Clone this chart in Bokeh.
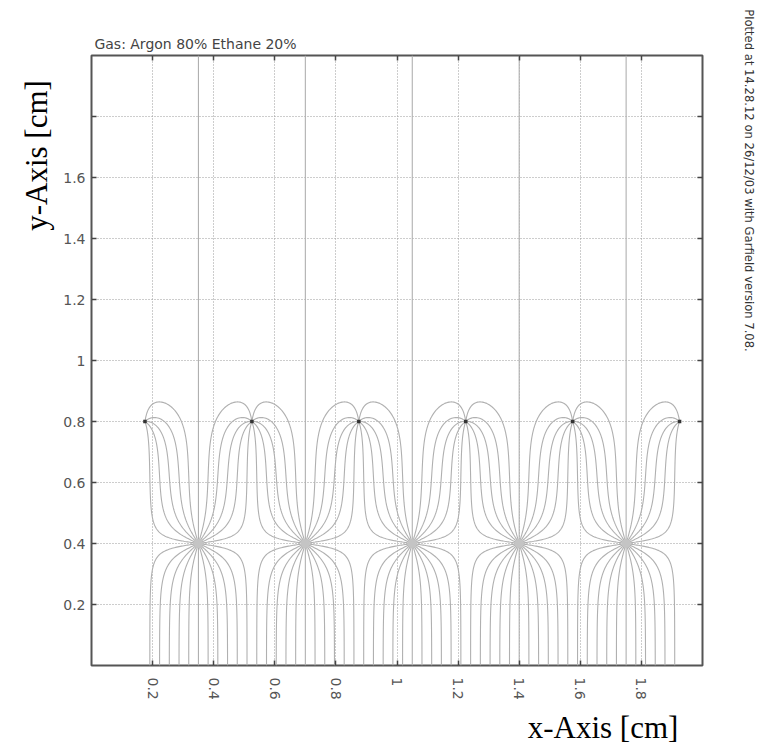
import math
import numpy as np
from bokeh.plotting import figure
from bokeh.models import Range1d, LinearAxis, FixedTicker, ColumnDataSource
from bokeh.embed import file_html
from bokeh.resources import INLINE

# ---------------- data ----------------
gas_text = "Gas: Argon 80% Ethane 20%"
stamp_text = "Plotted at 14.28.12 on 26/12/03 with Garfield version 7.08."
x_title = "x-Axis [cm]"
y_title = "y-Axis [cm]"

anode_x = [0.35, 0.70, 1.05, 1.40, 1.75]
anode_y = [0.40, 0.40, 0.40, 0.40, 0.40]
cathode_x = [0.175, 0.525, 0.875, 1.225, 1.575, 1.925]
cathode_y = [0.80, 0.80, 0.80, 0.80, 0.80, 0.80]
cell_pitch = 0.35            # periodic cell (cm)
anode_charge = 1.0           # relative line charges
escape_fraction = 0.07       # share of anode flux leaving through the top
cathode_charge = -0.5 + escape_fraction
lines_per_anode = 22

x_ticks = [0.2, 0.4, 0.6, 0.8, 1.0, 1.2, 1.4, 1.6, 1.8]
x_tick_labels = ["0.2", "0.4", "0.6", "0.8", "1", "1.2", "1.4", "1.6", "1.8"]
y_ticks = [0.2, 0.4, 0.6, 0.8, 1.0, 1.2, 1.4, 1.6, 1.8]
y_tick_labels = ["0.2", "0.4", "0.6", "0.8", "1", "1.2", "1.4", "1.6", ""]

x_lo, x_hi = 0.0, 2.0
y_lo, y_hi = 0.0, 2.0

# ---------------- electrostatic field of the periodic wire grid ----------------
sources = [(complex(anode_x[0], anode_y[0]), anode_charge),
           (complex(cathode_x[0], cathode_y[0]), cathode_charge)]
kk = math.pi / cell_pitch
e_top = 2 * math.pi * escape_fraction * anode_charge / cell_pitch


def field(z):
    const = np.zeros(z.shape, dtype=complex)
    rem = np.zeros(z.shape, dtype=complex)
    for zc, lam in sources:
        for src, s in ((zc, lam), (zc.conjugate(), -lam)):
            w = kk * (z - src)
            up = w.imag > 0
            q = np.exp(np.where(up, 2j * w, -2j * w))
            r = 2j * q / (1 - q)
            rem += s * np.where(up, -r, r)
            const += s * np.where(up, -1j, 1j)
    return np.conj(kk * (const + rem)) + 1j * e_top


def direction(zv):
    e = field(zv)
    return e / np.abs(e)


h = 0.002
r0 = 0.002
r_end = 0.003
starts, paths = [], []
for ax_, ay_ in zip(anode_x, anode_y):
    for j in range(lines_per_anode):
        th = math.pi / 2 + 2 * math.pi * j / lines_per_anode
        starts.append(complex(ax_, ay_) + r0 * complex(math.cos(th), math.sin(th)))
        paths.append([complex(ax_, ay_)])
z = np.array(starts)
for i in range(len(z)):
    paths[i].append(z[i])
active = np.ones(len(z), bool)

for step in range(5000):
    idx = np.nonzero(active)[0]
    if idx.size == 0:
        break
    zz = z[idx]
    k1 = direction(zz)
    k2 = direction(zz + 0.5 * h * k1)
    k3 = direction(zz + 0.5 * h * k2)
    k4 = direction(zz + h * k3)
    zn = zz + h * (k1 + 2 * k2 + 2 * k3 + k4) / 6
    dx = (zn.real - cathode_x[0] + cell_pitch / 2) % cell_pitch - cell_pitch / 2
    dy = zn.imag - cathode_y[0]
    hit_c = np.hypot(dx, dy) < r_end
    for m, i in enumerate(idx):
        a, b = zz[m], zn[m]
        if hit_c[m]:
            paths[i].append(complex(b.real - dx[m], cathode_y[0]))
            active[i] = False
        elif b.imag <= y_lo:
            t = (a.imag - y_lo) / (a.imag - b.imag)
            paths[i].append(complex(a.real + t * (b.real - a.real), y_lo))
            active[i] = False
        elif b.imag >= y_hi:
            t = (y_hi - a.imag) / (b.imag - a.imag)
            paths[i].append(complex(a.real + t * (b.real - a.real), y_hi))
            active[i] = False
        elif b.real < x_lo - 0.05 or b.real > x_hi + 0.05:
            paths[i].append(b)
            active[i] = False
        else:
            paths[i].append(b)
    z[idx] = zn

xs, ys = [], []
for pth in paths:
    arr = np.array(pth)
    keep = list(range(0, len(arr) - 1, 2)) + [len(arr) - 1]
    arr = arr[keep]
    xs.append(np.round(arr.real, 5).tolist())
    ys.append(np.round(arr.imag, 5).tolist())

# ---------------- figure ----------------
FRAME_W, FRAME_H = 611, 610
p = figure(width=758, height=747, x_range=Range1d(x_lo, x_hi), y_range=Range1d(y_lo, y_hi),
           output_backend="svg", toolbar_location=None, title=None,
           min_border_left=91, min_border_right=56, min_border_top=55, min_border_bottom=82)
p.extra_x_ranges = {"px": Range1d(0, FRAME_W)}
p.extra_y_ranges = {"px": Range1d(0, FRAME_H)}
p.background_fill_color = "white"
p.border_fill_color = "white"
p.outline_line_color = "#555555"
p.outline_line_width = 2

p.add_layout(LinearAxis(), "above")
p.add_layout(LinearAxis(), "right")

label_font = "DejaVu Sans"
for axis in p.xaxis:
    axis.ticker = FixedTicker(ticks=x_ticks)
for axis in p.yaxis:
    axis.ticker = FixedTicker(ticks=y_ticks)
for axis in list(p.xaxis) + list(p.yaxis):
    axis.axis_line_color = None
    axis.major_tick_in = 5
    axis.major_tick_out = 0
    axis.minor_tick_in = 0
    axis.minor_tick_out = 0
    axis.major_tick_line_color = "#444444"
    axis.major_tick_line_width = 1.5
    axis.major_label_text_font = label_font
    axis.major_label_text_font_size = "14px"
    axis.major_label_text_color = "#555555"

bottom_ax = p.below[0]
left_ax = p.left[0]
bottom_ax.major_label_overrides = {t: s for t, s in zip(x_ticks, x_tick_labels)}
bottom_ax.major_label_orientation = -math.pi / 2
bottom_ax.major_label_standoff = 12
left_ax.major_label_overrides = {t: s for t, s in zip(y_ticks, y_tick_labels)}
left_ax.major_label_standoff = 6
for ax_ in (p.above[0], p.right[0]):
    ax_.major_label_text_font_size = "0px"
    ax_.major_label_standoff = 0
    ax_.major_label_overrides = {t: "" for t in x_ticks}


def text_axis(side, pos, text, font, size, color, orient, standoff):
    if side in ("above", "below"):
        ax = LinearAxis(x_range_name="px")
    else:
        ax = LinearAxis(y_range_name="px")
    ax.ticker = FixedTicker(ticks=[pos])
    ax.major_label_overrides = {pos: text}
    ax.axis_line_color = None
    ax.major_tick_line_color = None
    ax.minor_tick_line_color = None
    ax.major_tick_in = 0
    ax.major_tick_out = 0
    ax.minor_tick_in = 0
    ax.minor_tick_out = 0
    ax.major_label_standoff = standoff
    ax.major_label_orientation = orient
    ax.major_label_text_font = font
    ax.major_label_text_font_size = size
    ax.major_label_text_color = color
    p.add_layout(ax, side)


# text positions in frame pixels (from frame left / frame bottom)
text_axis("above", 104, gas_text, label_font, "14px", "#444444", "horizontal", 4)
text_axis("left", 510, y_title, "Liberation Serif", "31px", "black", "vertical", 7)
text_axis("below", 511.5, x_title, "Liberation Serif", "31px", "black", "horizontal", 7)
text_axis("right", 485, stamp_text, label_font, "11.6px", "#333333", "parallel", 39)

for g, tk in ((p.xgrid, x_ticks), (p.ygrid, y_ticks)):
    g.ticker = FixedTicker(ticks=tk)
    g.grid_line_color = "#9a9a9a"
    g.grid_line_dash = "1 2"
    g.grid_line_width = 1

src = ColumnDataSource(dict(xs=xs, ys=ys))
p.multi_line(xs="xs", ys="ys", source=src, line_color="#b0b0b0", line_width=1.1)

p.scatter(x=anode_x, y=anode_y, size=9, marker="circle", fill_color="#c4c4c4", line_color=None)
p.scatter(x=cathode_x, y=cathode_y, size=3.5, marker="square", fill_color="#333333", line_color=None)

open("out.html", "w").write(file_html(p, INLINE))
